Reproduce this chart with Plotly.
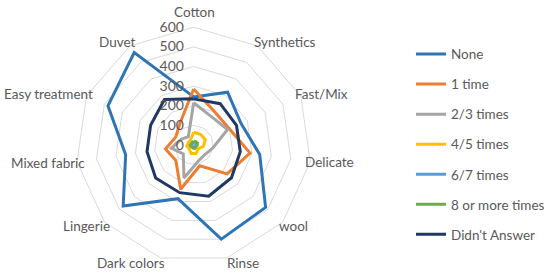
import plotly.graph_objects as go

categories = ["Cotton", "Synthetics", "Fast/Mix", "Delicate", "wool", "Rinse",
              "Dark colors", "Lingerie", "Mixed fabric", "Easy treatment", "Duvet"]

none_vals = [245, 320, 265, 340, 485, 500, 285, 475, 350, 480, 560]
one_time = [285, 200, 200, 290, 225, 110, 235, 120, 145, 100, 130]
two_three = [215, 170, 190, 100, 75, 85, 175, 70, 115, 70, 50]
four_five = [65, 65, 65, 50, 30, 45, 45, 30, 35, 30, 30]
six_seven = [12, 12, 12, 10, 10, 10, 10, 10, 10, 10, 10]
eight_more = [20, 20, 22, 18, 15, 18, 15, 15, 18, 15, 15]
didnt_answer = [235, 250, 240, 240, 255, 272, 253, 256, 240, 241, 275]

series_names = ["None", "1 time", "2/3 times", "4/5 times", "6/7 times",
                "8 or more times", "Didn't Answer"]
series_values = [none_vals, one_time, two_three, four_five, six_seven,
                 eight_more, didnt_answer]
colors = ["#2E75B6", "#ED7D31", "#A5A5A5", "#FFC000", "#5B9BD5", "#70AD47", "#1F3864"]

radial_ticks = [0, 100, 200, 300, 400, 500, 600]

# label anchor points (pixels) for category labels
label_px = [(195, 12), (286, 42), (322, 94), (330, 162), (294, 226), (243, 263),
            (131, 263), (87, 226), (48, 163), (49, 94), (118, 42)]

fig = go.Figure()
for i, (name, vals, col) in enumerate(zip(series_names, series_values, colors)):
    fig.add_trace(go.Scatterpolar(
        r=vals + [vals[0]],
        theta=categories + [categories[0]],
        mode="lines",
        name=name,
        legendgroup=f"g{i}",
        line=dict(color=col, width=3),
    ))

W, H = 550, 273
cx, cy, R = 194, 145, 118

annotations = []
for cat, (px, py) in zip(categories, label_px):
    annotations.append(dict(
        text=cat, x=px / W, y=1 - py / H, xref="paper", yref="paper",
        xanchor="center", yanchor="middle", showarrow=False,
        font=dict(family="Lato", size=13.5, color="#595959"),
    ))

fig.update_layout(
    width=W, height=H,
    margin=dict(l=0, r=0, t=0, b=0),
    paper_bgcolor="white",
    font=dict(family="Lato", size=13, color="#595959"),
    annotations=annotations,
    polar=dict(
        domain=dict(x=[(cx - R) / W, (cx + R) / W],
                    y=[1 - (cy + R) / H, 1 - (cy - R) / H]),
        bgcolor="white",
        gridshape="linear",
        radialaxis=dict(
            range=[0, 600],
            tickvals=radial_ticks,
            ticktext=[str(v) + "\u00a0\u00a0" for v in radial_ticks],
            angle=90,
            tickangle=90,
            side="counterclockwise",
            showline=False,
            ticks="",
            gridcolor="#D9D9D9",
            gridwidth=1,
            tickfont=dict(size=14, color="#595959"),
        ),
        angularaxis=dict(
            rotation=90,
            direction="clockwise",
            showgrid=False,
            showticklabels=False,
            linecolor="#D9D9D9",
            linewidth=1,
            ticks="",
        ),
    ),
    showlegend=True,
    legend=dict(
        x=0.7486, y=0.858, xanchor="left", yanchor="top",
        tracegroupgap=9.5,
        itemwidth=30,
        font=dict(size=13.5, color="#595959"),
        bgcolor="rgba(0,0,0,0)",
    ),
)

fig.write_html("out.html", config={"displayModeBar": False},
               post_script="document.body.style.margin='0';")
